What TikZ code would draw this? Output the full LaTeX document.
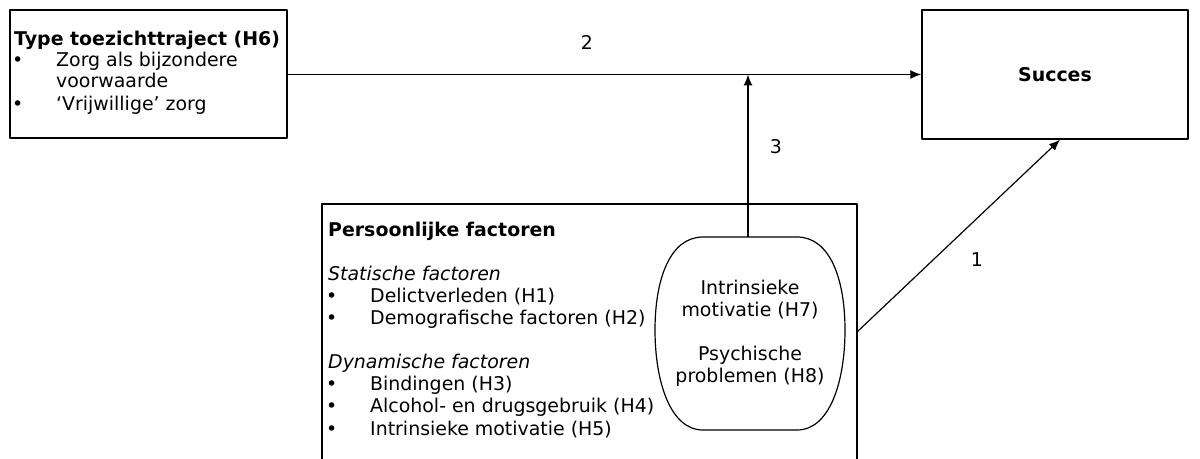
\documentclass[tikz,border=0pt]{standalone}
\usepackage{fontspec}
\setmainfont{DejaVu Sans}
\usetikzlibrary{arrows.meta}
\tikzset{
  box/.style={draw=black,line width=1.5bp,inner sep=0pt},
  txt/.style={anchor=base west,inner sep=0pt,font=\fontsize{19}{22}\selectfont},
  txtb/.style={anchor=base west,inner sep=0pt,font=\bfseries\fontsize{19}{22}\selectfont},
  txti/.style={anchor=base west,inner sep=0pt,font=\itshape\fontsize{19}{22}\selectfont},
  num/.style={inner sep=0pt,font=\fontsize{19}{22}\selectfont},
}
\begin{document}
\begin{tikzpicture}[>={Latex[length=11bp,width=9bp]},line join=bevel,]
%%
\useasboundingbox (0bp,0bp) rectangle (1200bp,459bp);
\clip (0bp,0bp) rectangle (1200bp,459bp);
\node (node_type) at (148.5bp,385bp) [box,minimum width=277bp,minimum height=128bp] {};
  \node (node_succes) at (1055bp,384.5bp) [box,minimum width=266bp,minimum height=129bp,font=\bfseries\fontsize{19}{22}\selectfont] {Succes};
  \node (node_pers) at (589.5bp,120bp) [box,minimum width=535bp,minimum height=270bp] {};
  \node (node_motiv) at (750bp,126bp) [num,align=center] {Intrinsieke\\motivatie (H7)\\[22bp]Psychische\\problemen (H8)};
%
\draw [black,line width=1.2bp] (703bp,222bp) -- (797bp,222bp) .. controls (830bp,222bp) and (845bp,180bp) .. (845bp,129bp) .. controls (845bp,78bp) and (830bp,29bp) .. (797bp,29bp) -- (703bp,29bp) .. controls (670bp,29bp) and (655bp,78bp) .. (655bp,129bp) .. controls (655bp,180bp) and (670bp,222bp) .. (703bp,222bp);
%
\node (type_0) at (14bp,413bp) [txtb] {Type toezichttraject (H6)};
  \node (type_1) at (12bp,392bp) [txt] {•};
  \node (type_2) at (56bp,392bp) [txt] {Zorg als bijzondere};
  \node (type_3) at (56bp,371bp) [txt] {voorwaarde};
  \node (type_4) at (12bp,348bp) [txt] {•};
  \node (type_5) at (56bp,348bp) [txt] {‘Vrijwillige’ zorg};
%
\node (pers_0) at (328bp,222bp) [txtb] {Persoonlijke factoren};
  \node (pers_1) at (328bp,178bp) [txti] {Statische factoren};
  \node (pers_2) at (326bp,156bp) [txt] {•};
  \node (pers_3) at (370bp,156bp) [txt] {Delictverleden (H1)};
  \node (pers_4) at (326bp,134bp) [txt] {•};
  \node (pers_5) at (370bp,134bp) [txt] {Demografische factoren (H2)};
  \node (pers_6) at (328bp,90bp) [txti] {Dynamische factoren};
  \node (pers_7) at (326bp,68bp) [txt] {•};
  \node (pers_8) at (370bp,68bp) [txt] {Bindingen (H3)};
  \node (pers_9) at (326bp,46bp) [txt] {•};
  \node (pers_10) at (370bp,46bp) [txt] {Alcohol- en drugsgebruik (H4)};
  \node (pers_11) at (326bp,24bp) [txt] {•};
  \node (pers_12) at (370bp,24bp) [txt] {Intrinsieke motivatie (H5)};
%
\coordinate (motiv_top) at (748bp,222bp);
  \coordinate (pers_out) at (857bp,127bp);
  \node (lbl_2) at (587bp,417bp) [num] {2};
  \node (lbl_3) at (776bp,312bp) [num] {3};
  \node (lbl_1) at (977bp,199bp) [num] {1};
  \draw [black,line width=1.2bp,->] (node_type.east |- node_succes.west) -- (node_succes.west);
  \draw [black,line width=1.2bp,->] (motiv_top) -- (motiv_top |- node_succes.west);
  \draw [black,line width=1.2bp,->] (pers_out) -- ([xshift=5bp]node_succes.south);
%
\end{tikzpicture}
\end{document}
